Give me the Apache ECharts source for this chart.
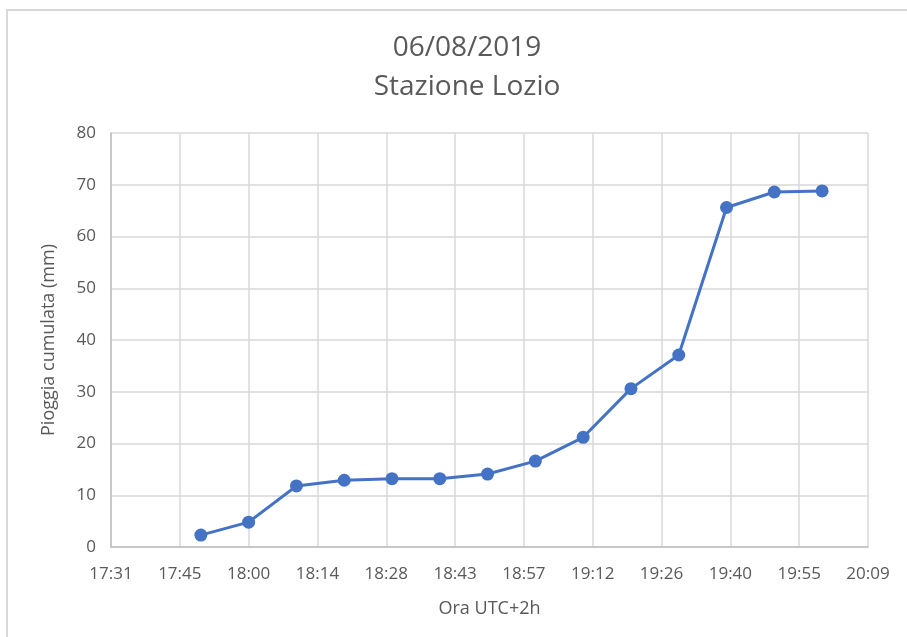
<!DOCTYPE html>
<html>
<head>
<meta charset="utf-8">
<script src="https://cdn.jsdelivr.net/npm/echarts@6/dist/echarts.min.js"></script>
<style>
  html, body { margin: 0; padding: 0; background: #ffffff; }
  #chart { width: 907px; height: 637px; }
</style>
</head>
<body>
<div id="chart"></div>
<script>
// Readings of the Lozio rain gauge, local time (UTC+2h)
const titleLines = ['06/08/2019', 'Stazione Lozio'];
const times = ['17:50', '18:00', '18:10', '18:20', '18:30', '18:40', '18:50',
               '19:00', '19:10', '19:20', '19:30', '19:40', '19:50', '20:00'];
const rainCum = [2.3, 4.8, 11.8, 12.9, 13.2, 13.2, 14.1,
                 16.6, 21.2, 30.6, 37.1, 65.6, 68.6, 68.8];
const yName = 'Pioggia cumulata (mm)';
const xName = 'Ora UTC+2h';

// The time axis runs in hundredths of a day (14.4 minutes per step)
const MIN_PER_UNIT = 14.4;
function toUnits(hhmm) {
  const [h, m] = hhmm.split(':').map(Number);
  return (h * 60 + m) / MIN_PER_UNIT;
}
function unitsToLabel(v) {
  const total = Math.floor(v * MIN_PER_UNIT + 1e-6);
  const h = Math.floor(total / 60);
  const m = total % 60;
  return String(h).padStart(2, '0') + ':' + String(m).padStart(2, '0');
}

const points = times.map((t, i) => [toUnits(t), rainCum[i]]);

const textColor = '#595959';
const font = '"Open Sans", "Noto Sans", sans-serif';

const chart = echarts.init(document.getElementById('chart'), null, { renderer: 'canvas' });
chart.setOption({
  backgroundColor: '#ffffff',
  animation: false,
  graphic: [{
    type: 'rect',
    shape: { x: 7, y: 10, width: 920, height: 640 },
    style: { fill: 'none', stroke: '#d9d9d9', lineWidth: 2 },
    silent: true
  }],
  title: [{
    text: titleLines[0],
    left: 462, top: 29, textAlign: 'center',
    textStyle: { color: textColor, fontSize: 28, fontWeight: 'normal', fontFamily: font }
  }, {
    text: titleLines[1],
    left: 462, top: 68, textAlign: 'center',
    textStyle: { color: textColor, fontSize: 28, fontWeight: 'normal', fontFamily: font }
  }],
  grid: { left: 111, right: 39, top: 133, bottom: 90, containLabel: false },
  xAxis: {
    type: 'value',
    min: 73, max: 84, interval: 1,
    name: xName,
    nameLocation: 'middle',
    nameGap: 53,
    nameTextStyle: { color: textColor, fontSize: 18, fontFamily: font },
    axisLine: { show: true, lineStyle: { color: '#bfbfbf', width: 1.5 } },
    axisTick: { show: false },
    axisLabel: {
      color: textColor, fontSize: 17, fontFamily: font, margin: 19,
      formatter: unitsToLabel
    },
    splitLine: { show: true, lineStyle: { color: '#d9d9d9', width: 1.5 } }
  },
  yAxis: {
    type: 'value',
    min: 0, max: 80, interval: 10,
    name: yName,
    nameLocation: 'middle',
    nameGap: 53,
    nameTextStyle: { color: textColor, fontSize: 18, fontFamily: font },
    axisLine: { show: true, lineStyle: { color: '#bfbfbf', width: 1.5 } },
    axisTick: { show: false },
    axisLabel: { color: textColor, fontSize: 17, fontFamily: font, margin: 15 },
    splitLine: { show: true, lineStyle: { color: '#d9d9d9', width: 1.5 } }
  },
  series: [{
    type: 'line',
    data: points,
    symbol: 'circle',
    symbolSize: 13,
    itemStyle: { color: '#4472c4' },
    lineStyle: { color: '#4472c4', width: 3 }
  }]
});
</script>
</body>
</html>
